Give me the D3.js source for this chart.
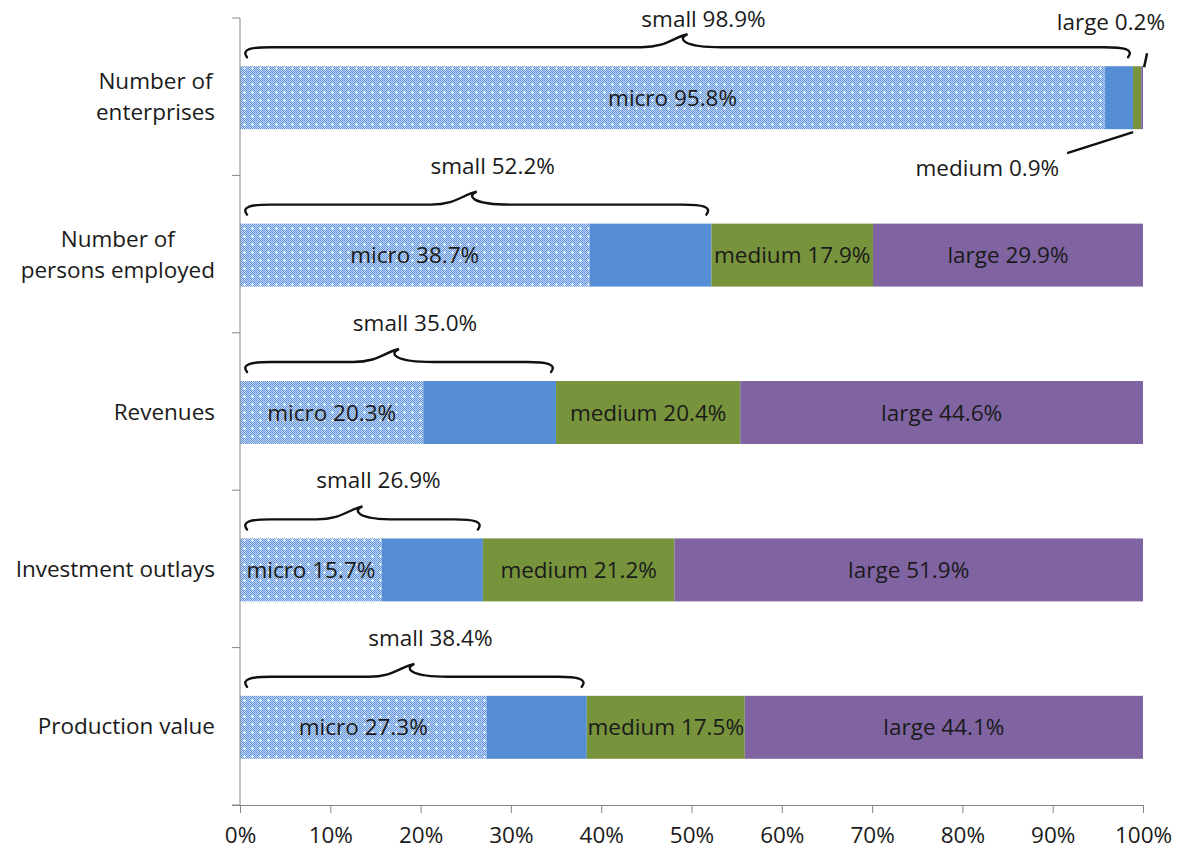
<!DOCTYPE html>
<html lang="en">
<head>
    <meta charset="UTF-8">
    <title>Enterprise size structure</title>
    <style>
        body { margin: 0; background: #fff; }
        svg text { font-family: "Open Sans", "Noto Sans", sans-serif; fill: #1a1a1a; }
    </style>
</head>
<body>
    <div id="chart"></div>
    <script src="https://d3js.org/d3.v7.min.js"></script>
    <script>
        // categories (top to bottom) and the share of each size class, in %
        const categories = [
            ["Number of", "enterprises"],
            ["Number of", "persons employed"],
            ["Revenues"],
            ["Investment outlays"],
            ["Production value"]
        ];
        const micro  = [95.8, 38.7, 20.3, 15.7, 27.3];
        const small  = [3.1, 13.5, 14.7, 11.2, 11.1];
        const medium = [0.9, 17.9, 20.4, 21.2, 17.5];
        const large  = [0.2, 29.9, 44.6, 51.9, 44.1];
        const sizeClasses = ["micro", "small", "medium", "large"];
        const xTicks = [0, 10, 20, 30, 40, 50, 60, 70, 80, 90, 100];

        const width = 1179, height = 853;
        const margin = {top: 18, right: 36, bottom: 48, left: 240};
        const fontSize = "22.5px";

        const svg = d3.select("#chart")
            .append("svg")
            .attr("width", width)
            .attr("height", height);

        // micro fill: fine blue/white checker with white crosses
        const pat = svg.append("defs")
            .append("pattern")
            .attr("id", "microFill")
            .attr("patternUnits", "userSpaceOnUse")
            .attr("width", 8)
            .attr("height", 8);
        pat.append("rect").attr("width", 8).attr("height", 8).attr("fill", "#c2d6f1");
        for (let i = 0; i < 8; i++) {
            for (let j = 0; j < 8; j++) {
                if ((i + j) % 2 === 0) {
                    pat.append("rect").attr("x", i).attr("y", j)
                        .attr("width", 1).attr("height", 1).attr("fill", "#6396da");
                }
            }
        }
        pat.append("rect").attr("x", 3).attr("y", 4).attr("width", 3).attr("height", 1).attr("fill", "#fff");
        pat.append("rect").attr("x", 4).attr("y", 3).attr("width", 1).attr("height", 3).attr("fill", "#fff");

        const colors = {micro: "url(#microFill)", small: "#558ed5", medium: "#77933c", large: "#8064a2"};

        const x = d3.scaleLinear()
            .domain([0, 100])
            .range([margin.left, width - margin.right]);

        const y = d3.scaleBand()
            .domain(d3.range(categories.length))
            .range([margin.top, height - margin.bottom])
            .paddingInner(0.6)
            .paddingOuter(0.3);

        const rows = categories.map(function (c, i) {
            return {micro: micro[i], small: small[i], medium: medium[i], large: large[i]};
        });
        const stacked = d3.stack().keys(sizeClasses)(rows);

        // bars
        svg.selectAll(".layer")
            .data(stacked)
            .enter()
            .append("g")
            .attr("class", "layer")
            .attr("fill", function (d) {return colors[d.key];})
            .selectAll("rect")
            .data(function (d) {return d;})
            .enter()
            .append("rect")
            .attr("x", function (d) {return x(d[0]);})
            .attr("y", function (d, i) {return y(i) + 1;})
            .attr("width", function (d) {return x(d[1]) - x(d[0]);})
            .attr("height", y.bandwidth());

        // axes
        const xAxis = svg.append("g")
            .attr("transform", `translate(0,${height - margin.bottom})`)
            .call(d3.axisBottom(x)
                .tickValues(xTicks)
                .tickSize(8)
                .tickFormat(function (d) {return d + "%";}));
        xAxis.select(".domain").attr("d", `M${margin.left - 8},0.5H${width - margin.right}`);

        const yAxisG = svg.append("g");
        yAxisG.append("line")
            .attr("x1", margin.left).attr("x2", margin.left)
            .attr("y1", margin.top).attr("y2", height - margin.bottom)
            .attr("stroke", "#868686");
        const step = y.step();
        yAxisG.selectAll(".ytick")
            .data(d3.range(categories.length + 1))
            .enter()
            .append("line")
            .attr("x1", margin.left - 8).attr("x2", margin.left)
            .attr("y1", function (d) {return margin.top + d * step;})
            .attr("y2", function (d) {return margin.top + d * step;})
            .attr("stroke", "#868686");

        xAxis.selectAll("line").attr("stroke", "#868686");
        xAxis.select(".domain").attr("stroke", "#868686");
        xAxis.selectAll("text")
            .attr("dy", null)
            .attr("y", 38)
            .style("font-size", fontSize)
            .style("font-family", "'Open Sans', sans-serif")
            .attr("fill", "#1a1a1a");

        // category labels, block right aligned, lines centred
        categories.forEach(function (lines, i) {
            const cy = y(i) + y.bandwidth() / 2;
            const t = svg.append("text")
                .attr("text-anchor", "middle")
                .style("font-size", fontSize);
            lines.forEach(function (line, k) {
                t.append("tspan")
                    .attr("x", 0)
                    .attr("y", cy + (k - (lines.length - 1) / 2) * 31 + 8)
                    .text(line);
            });
            const w = t.node().getBBox().width;
            t.selectAll("tspan").attr("x", 215 - w / 2);
        });

        // segment labels
        function segLabel(cls, i) {
            const d = stacked[sizeClasses.indexOf(cls)][i];
            svg.append("text")
                .attr("x", (x(d[0]) + x(d[1])) / 2)
                .attr("y", y(i) + y.bandwidth() / 2 + 9)
                .attr("text-anchor", "middle")
                .style("font-size", fontSize)
                .text(cls + " " + d3.format(".1f")(d.data[cls]) + "%");
        }
        rows.forEach(function (r, i) {
            segLabel("micro", i);
            if (i > 0) {
                segLabel("medium", i);
                segLabel("large", i);
            }
        });

        // curly braces over micro + small
        function bracePath(x0, x1, yb) {
            const mid = (x0 + x1) / 2 - 6;
            const yf = yb - 10, yp = yb - 23;
            return `M${x0},${yb}` +
                `C${x0 - 6},${yf + 2} ${x0 + 4},${yf} ${x0 + 24},${yf}` +
                `L${mid - 40},${yf}` +
                `C${mid - 15},${yf} ${mid - 8},${yp + 3} ${mid + 6},${yp}` +
                `C${mid - 4},${yp + 4} ${mid},${yf} ${mid + 40},${yf}` +
                `L${x1 - 24},${yf}` +
                `C${x1 - 4},${yf} ${x1 + 6},${yf + 2} ${x1},${yb}`;
        }
        rows.forEach(function (r, i) {
            const top = y(i);
            const x0 = x(0) + 7, x1 = x(r.micro + r.small) - 5;
            svg.append("path")
                .attr("d", bracePath(x0, x1, top - 8))
                .attr("fill", "none")
                .attr("stroke", "#111")
                .attr("stroke-width", 2.4)
                .attr("stroke-linecap", "round");
            svg.append("text")
                .attr("x", (x0 + x1) / 2 + 16)
                .attr("y", top - (i === 0 ? 38 : 49))
                .attr("text-anchor", "middle")
                .style("font-size", fontSize)
                .text("small " + d3.format(".1f")(r.micro + r.small) + "%");
        });

        // leader labels for the tiny segments of the first bar
        const top0 = y(0), bot0 = y(0) + y.bandwidth();
        const xLarge = x(100 - large[0] / 2);
        const xMedium = x(micro[0] + small[0] + medium[0] / 2);
        svg.append("line")
            .attr("x1", xLarge + 5).attr("y1", top0 - 12)
            .attr("x2", xLarge + 2).attr("y2", top0 + 2)
            .attr("stroke", "#111").attr("stroke-width", 2.5);
        svg.append("text")
            .attr("x", xLarge + 23).attr("y", 30)
            .attr("text-anchor", "end")
            .style("font-size", fontSize)
            .text("large " + large[0].toFixed(1) + "%");
        svg.append("line")
            .attr("x1", xMedium - 4).attr("y1", bot0 + 4)
            .attr("x2", xMedium - 70).attr("y2", bot0 + 25)
            .attr("stroke", "#111").attr("stroke-width", 2.5);
        svg.append("text")
            .attr("x", xMedium - 78).attr("y", bot0 + 48)
            .attr("text-anchor", "end")
            .style("font-size", fontSize)
            .text("medium " + medium[0].toFixed(1) + "%");
    </script>
</body>
</html>
